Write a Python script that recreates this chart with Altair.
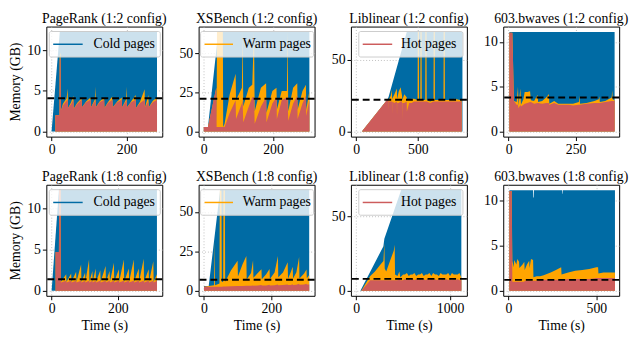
import altair as alt
import pandas as pd

BLUE = "#006BA4"
ORANGE = "#FFA500"
RED = "#CD5C5C"
FONT = "Liberation Serif"

TITLES = ["PageRank (1:2 config)", "XSBench (1:2 config)", "Liblinear (1:2 config)", "603.bwaves (1:2 config)",
          "PageRank (1:8 config)", "XSBench (1:8 config)", "Liblinear (1:8 config)", "603.bwaves (1:8 config)"]
LEGEND_LABELS = ["Cold pages", "Warm pages", "Hot pages"]
THRESHOLDS = [4.1, 21.0, 22.3, 3.8, 1.4, 7.0, 8.0, 1.2]
X_TICKS = [[0, 200], [0, 200], [0, 500], [0, 250], [0, 200], [0, 200], [0, 1000], [0, 500]]
Y_TICKS = [[0, 5, 10], [0, 25, 50], [0, 50], [0, 5, 10], [0, 5, 10], [0, 25, 50], [0, 50], [0, 5, 10]]
X_DOMAINS = [[-14, 295], [-15, 320], [-43, 898], [-20, 412], [-16, 334], [-16, 329], [-56, 1179], [-30, 630]]
Y_DOMAINS = [[-0.62, 12.9], [-3.2, 67.2], [-3.5, 73.3], [-0.56, 11.7], [-0.62, 12.9], [-3.2, 67.2], [-3.4, 71.4], [-0.56, 11.7]]

# ---- PageRank 1:2 ----
PR2_TOT_T = [0, 22, 281]
PR2_TOT = [0, 12.3, 12.3]
PR2_T = [0, 10, 10, 21, 21.5, 24, 25, 30, 40, 43, 44, 52, 58, 59, 68, 80, 81, 92, 104, 105, 115, 117, 118, 128,
         140, 141, 150, 162, 163, 175, 187, 188, 198, 200, 201, 212, 224, 225, 236, 248, 249, 258, 259, 270, 281]
PR2_HOT = [0, 0, 2.0, 2.0, 8.8, 9.0, 2.6, 3.2, 3.8, 3.9, 2.9, 3.4, 3.9, 2.8, 3.4, 3.9, 3.0, 3.6, 3.9, 3.0, 3.7, 3.9,
           3.0, 3.6, 3.9, 2.9, 3.5, 3.9, 3.0, 3.6, 3.9, 3.0, 3.7, 3.9, 3.0, 3.6, 3.9, 2.9, 3.5, 3.9, 3.0, 3.7, 3.0,
           3.6, 3.9]
PR2_WARM = [0, 0, 0, 0, 0.5, 0.7, 0, 0.2, 0.3, 1.4, 0, 0.2, 0.5, 0, 0.1, 0.2, 0, 0.1, 0.3, 0, 0.2, 1.6, 0, 0.1, 0.3,
            0, 0.1, 0.4, 0, 0.1, 0.3, 0, 0.2, 1.6, 0, 0.1, 0.6, 0, 0.2, 1.3, 0, 0.8, 0, 0.2, 0.3]

# ---- XSBench 1:2 ----
XS2_TOT_T = [0, 12, 42, 305]
XS2_TOT = [3, 3, 64, 64]
XS2_T = [0, 12, 36, 37, 38, 55, 56, 60, 75, 92, 93, 110, 112, 114, 130, 140, 145, 147, 165, 180, 181, 198, 210, 211,
         225, 240, 242, 244, 258, 270, 271, 285, 295, 296, 305]
XS2_HOT = [3, 3, 28, 3, 3, 3, 3, 3, 12, 20, 8, 18, 20, 6, 16, 22, 22, 5, 16, 22, 6, 18, 22, 8, 20, 22, 22, 7, 18, 23,
           8, 18, 23, 10, 20]
XS2_WARM = [0, 0, 0, 2, 61, 61, 0, 2, 12, 17, 12, 10, 44, 10, 12, 8, 42, 8, 12, 9, 6, 8, 6, 6, 6, 4, 42, 6, 10, 8,
            6, 8, 7, 4, 6]

# ---- Liblinear 1:2 ----
LL2_TOT_T = [0, 46, 250, 262, 410, 862]
LL2_TOT = [0, 0, 22, 24, 69.5, 69.5]
LL2_T = [0, 46, 250, 262, 263, 264, 280, 290, 291, 292, 310, 330, 331, 332, 345, 360, 372, 373, 374, 390, 410, 411,
         430, 450, 470, 498, 500, 508, 510, 520, 522, 530, 532, 560, 562, 570, 572, 600, 627, 629, 637, 639, 680, 708,
         710, 718, 720, 760, 800, 840, 855, 856]
LL2_HOT = [0, 0, 22, 22, 15, 21, 21, 21, 12, 21, 20, 21, 10, 20, 20, 21, 21, 8, 20, 20, 21, 14, 20, 20, 21, 21, 21,
           21, 21, 21, 21, 21, 21, 21, 21, 21, 21, 20, 21, 21, 21, 21, 21, 21, 21, 21, 21, 21, 21, 21, 21, 3]
LL2_WARM = [0, 0, 0, 0, 7, 1, 4, 8, 10, 2, 6, 9, 14, 3, 8, 10, 4, 14, 2, 6, 3, 8, 2, 3, 2, 1, 48.5, 48.5, 1, 1,
            48.5, 48.5, 1, 1, 48.5, 48.5, 1, 1, 1, 48.5, 48.5, 1, 1, 1, 48.5, 48.5, 1, 1, 2, 1, 1, 18]

# ---- 603.bwaves 1:2 ----
BW2_TOT_T = [3, 395]
BW2_TOT = [11.1, 11.1]
BW2_T = [3, 14, 20, 30, 35, 37, 44, 46, 55, 60, 70, 80, 83, 95, 108, 110, 125, 140, 150, 152, 170, 185, 200, 225, 240,
         262, 264, 266, 290, 320, 336, 338, 340, 360, 384, 386, 388, 395]
BW2_HOT = [11.0, 11.0, 3.4, 3.0, 3.0, 2.6, 3.0, 2.8, 3.0, 3.1, 3.2, 3.3, 3.3, 3.1, 3.2, 3.2, 3.1, 3.2, 3.2, 3.0, 3.2,
           3.0, 3.0, 3.0, 2.9, 3.0, 3.0, 3.0, 3.1, 3.2, 3.2, 3.2, 3.2, 3.3, 3.4, 3.4, 3.4, 3.4]
BW2_WARM = [0, 0, 0, 0.3, 2.0, 0.3, 1.8, 0.2, 0.6, 1.3, 1.2, 1.2, 0.2, 0.3, 0.9, 0.1, 0.3, 0.6, 1.0, 0.1, 0.2, 0.1,
            0.1, 0.1, 0.2, 0.3, 1.0, 0.1, 0.1, 0.2, 0.4, 0.7, 0.1, 0.1, 0.4, 1.2, 0.2, 0.1]

# ---- PageRank 1:8 ----
PR8_TOT_T = [0, 22, 318]
PR8_TOT = [0, 12.3, 12.3]
PR8_T = [0, 12, 12, 22, 23, 27, 28, 44, 45, 59, 60, 74, 75, 89, 90, 101, 102, 113, 114, 123, 124, 133, 134, 147, 148,
         163, 164, 175, 176, 188, 189, 203, 204, 218, 219, 233, 234, 248, 249, 263, 264, 278, 279, 293, 294, 307, 308,
         318]
PR8_HOT = [0, 0, 4.7, 4.7, 12.3, 12.3, 1.0, 1.2, 1.0, 1.2, 1.0, 1.2, 1.0, 1.2, 1.0, 1.2, 1.0, 1.2, 1.0, 1.2, 1.0, 1.2,
           1.0, 1.2, 1.0, 1.2, 1.0, 1.2, 1.0, 1.2, 1.0, 1.2, 1.0, 1.2, 1.0, 1.2, 1.0, 1.2, 1.0, 1.2, 1.0, 1.2, 1.0,
           1.2, 1.0, 1.2, 1.0, 1.2]
PR8_WARM = [0, 0, 0, 0, 0, 0, 0.1, 0.8, 0.1, 0.9, 0.1, 1.1, 0.1, 2.0, 0.1, 1.0, 0.1, 2.6, 0.1, 1.2, 0.1, 1.5, 0.1,
            1.3, 0.1, 1.8, 0.1, 1.2, 0.1, 2.2, 0.1, 1.4, 0.1, 2.6, 0.1, 1.5, 0.1, 2.6, 0.1, 1.5, 0.1, 2.7, 0.1, 1.4,
            0.1, 2.4, 0.1, 0.8]

# ---- XSBench 1:8 ----
XS8_TOT_T = [0, 14, 48, 313]
XS8_TOT = [3, 3, 64, 64]
XS8_T = [0, 14, 30, 31, 33, 46, 47, 52, 53, 57, 58, 62, 63, 80, 100, 101, 115, 126, 127, 140, 146, 147, 160, 171, 172,
         185, 195, 196, 210, 220, 221, 235, 249, 250, 258, 264, 265, 275, 283, 284, 298, 305, 306, 313]
XS8_HOT = [2.5, 2.5, 2.5, 2.5, 2.5, 2.6, 2.6, 2.6, 2.6, 2.7, 2.7, 2.7, 2.7, 2.8, 3.0, 3.0, 3.0, 3.1, 3.1, 3.2, 3.4,
           3.2, 3.3, 3.6, 3.3, 3.4, 3.8, 3.4, 3.5, 4.0, 3.5, 3.6, 4.0, 3.6, 3.7, 4.2, 3.7, 3.8, 4.4, 3.8, 3.9, 4.5,
           3.9, 4.0]
XS8_WARM = [0, 0.5, 1, 29, 1, 2, 61, 61, 3, 3, 61, 61, 3, 10, 16, 6, 14, 19, 4, 8, 16, 5, 8, 10, 4, 7, 10, 4, 8, 18,
            5, 8, 14, 4, 8, 11, 4, 8, 17, 4, 7, 9, 4, 6]

# ---- Liblinear 1:8 ----
LL8_TOT_T = [0, 45, 290, 300, 480, 1120]
LL8_TOT = [0, 0, 30, 35, 68, 68]
LL8_T = [0, 55, 150, 200, 250, 290, 300, 304, 320, 360, 400, 410, 414, 440, 460, 470, 500, 520, 540, 560, 580, 600,
         620, 640, 660, 680, 700, 720, 740, 760, 780, 800, 820, 840, 860, 880, 900, 920, 940, 960, 980, 1000, 1020,
         1040, 1060, 1080, 1100, 1120]
LL8_HOT = [0, 0, 7, 7, 7, 7, 7, 7, 7, 7, 7, 7, 7, 7, 8, 7, 7, 8, 7, 8, 7, 8, 7, 8, 7, 8, 7, 8, 7, 8, 7, 8, 7, 8, 7, 8,
           7, 8, 7, 8, 7, 8, 7, 8, 7, 8, 7, 7]
LL8_WARM = [0, 0, 3, 6, 10, 13, 25, 8, 6, 13, 20, 24, 4, 3, 5, 2, 4, 3, 5, 2, 4, 3, 5, 2, 4, 3, 5, 2, 4, 3, 5, 2, 5, 3,
            4, 2, 5, 3, 4, 3, 5, 2, 5, 3, 4, 3, 5, 2]

# ---- 603.bwaves 1:8 ----
BW8_TOT_T = [5, 140, 141, 144, 145, 305, 306, 308, 309, 606]
BW8_TOT = [11.1, 11.1, 10.3, 10.3, 11.1, 11.1, 10.7, 10.7, 11.1, 11.1]
BW8_T = [5, 18, 22, 30, 32, 45, 50, 60, 62, 80, 90, 92, 105, 118, 120, 128, 140, 142, 160, 180, 200, 240, 270, 300,
         302, 340, 380, 420, 460, 500, 510, 512, 540, 570, 600, 606]
BW8_HOT = [11.0, 11.0, 1.0, 1.0, 1.0, 1.0, 1.0, 1.0, 1.0, 1.0, 1.0, 1.1, 1.1, 1.1, 1.1, 1.1, 1.1, 1.1, 1.1, 1.2, 1.2,
           1.2, 1.2, 1.2, 1.2, 1.3, 1.3, 1.3, 1.3, 1.4, 1.4, 1.4, 1.4, 1.4, 1.4, 1.4]
BW8_WARM = [0, 0, 2.3, 1.6, 2.4, 1.9, 2.5, 2.2, 1.5, 1.9, 2.2, 1.2, 1.8, 2.2, 1.4, 2.4, 2.3, 0.4, 0.5, 0.4, 0.5, 0.8,
            1.1, 1.4, 0.6, 0.7, 0.9, 1.0, 1.1, 1.2, 1.2, 0.5, 0.6, 0.6, 0.6, 0.6]

SERIES = [
    (PR2_TOT_T, PR2_TOT, PR2_T, PR2_HOT, PR2_WARM),
    (XS2_TOT_T, XS2_TOT, XS2_T, XS2_HOT, XS2_WARM),
    (LL2_TOT_T, LL2_TOT, LL2_T, LL2_HOT, LL2_WARM),
    (BW2_TOT_T, BW2_TOT, BW2_T, BW2_HOT, BW2_WARM),
    (PR8_TOT_T, PR8_TOT, PR8_T, PR8_HOT, PR8_WARM),
    (XS8_TOT_T, XS8_TOT, XS8_T, XS8_HOT, XS8_WARM),
    (LL8_TOT_T, LL8_TOT, LL8_T, LL8_HOT, LL8_WARM),
    (BW8_TOT_T, BW8_TOT, BW8_T, BW8_HOT, BW8_WARM),
]

# legend geometry (pixels inside plot): box left, box right, line start, line end, text x
LEGEND_GEOM = [(3, 116, 7, 37, 48), (2, 117, 6, 35, 45), (8, 114, 12, 42, 51)]
LEGEND_COLORS = [BLUE, ORANGE, RED]

W = 118
HEIGHTS = [112, 113]


def panel(i):
    row, col = divmod(i, 4)
    tot_t, tot_v, t, hot, warm = SERIES[i]
    tot_df = pd.DataFrame({"t": tot_t, "y": tot_v})
    hw_df = pd.DataFrame({"t": t, "y": [h + w for h, w in zip(hot, warm)]})
    hot_df = pd.DataFrame({"t": t, "y": hot})
    thr_df = pd.DataFrame({"y": [THRESHOLDS[i]]})

    x_enc = alt.X("t:Q", scale=alt.Scale(domain=X_DOMAINS[i], nice=False, zero=False),
                  axis=alt.Axis(values=X_TICKS[i], format="d"),
                  title="Time (s)" if row == 1 else None)
    y_enc = alt.Y("y:Q", scale=alt.Scale(domain=Y_DOMAINS[i], nice=False, zero=False),
                  axis=alt.Axis(values=Y_TICKS[i], format="d"), stack=None,
                  title="Memory (GB)" if col == 0 else None)

    layers = [
        alt.Chart(tot_df).mark_area(color=BLUE, interpolate="linear").encode(x=x_enc, y=y_enc),
        alt.Chart(hw_df).mark_area(color=ORANGE, interpolate="linear").encode(x=x_enc, y=y_enc),
        alt.Chart(hot_df).mark_area(color=RED, interpolate="linear").encode(x=x_enc, y=y_enc),
        alt.Chart(thr_df).mark_rule(color="black", strokeWidth=2, strokeDash=[7, 4]).encode(y=y_enc),
    ]
    if col < 3:
        bl, br, ll, lr, tx = LEGEND_GEOM[col]
        one = pd.DataFrame({"k": [0]})
        layers += [
            alt.Chart(one).mark_rect(fill="white", fillOpacity=0.8, stroke="#cccccc", strokeWidth=1,
                                     cornerRadius=2).encode(
                x=alt.value(bl), x2=alt.value(br), y=alt.value(5), y2=alt.value(31)),
            alt.Chart(one).mark_rule(color=LEGEND_COLORS[col], strokeWidth=1.5).encode(
                x=alt.value(ll), x2=alt.value(lr), y=alt.value(18)),
            alt.Chart(one).mark_text(text=LEGEND_LABELS[col], align="left", baseline="middle", font=FONT,
                                     fontSize=14, fontWeight="normal", color="black").encode(
                x=alt.value(tx), y=alt.value(18)),
        ]
    return alt.layer(*layers).properties(width=W, height=HEIGHTS[row], title=TITLES[i])


chart = alt.concat(*[panel(i) for i in range(8)], columns=4,
                   spacing={"row": 49, "column": 37}, bounds="flush").properties(
    padding={"left": 0, "top": 0, "right": 0, "bottom": 0}
).configure(font=FONT).configure_axis(
    labelFont=FONT, labelFontSize=14, labelColor="black", labelFontWeight="normal",
    titleFont=FONT, titleFontSize=14, titleFontWeight="normal", titleColor="black",
    tickColor="black", tickSize=4, tickWidth=1, domain=False,
    grid=True, gridColor="#b0b0b0", gridDash=[1, 2], gridWidth=0.8,
    labelPadding=2, labelFlush=False,
).configure_axisY(titlePadding=4).configure_axisX(titlePadding=3).configure_view(
    stroke="black", strokeWidth=1
).configure_title(
    font=FONT, fontSize=14, fontWeight="normal", color="black", offset=1
)

chart.save("out.html", embed_options={"renderer": "svg", "actions": False})
